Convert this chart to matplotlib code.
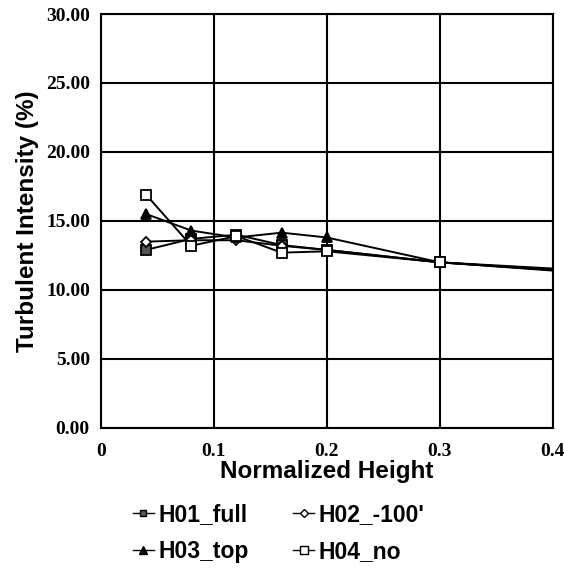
import matplotlib
matplotlib.use("Agg")
import matplotlib.pyplot as plt

x = [0.04, 0.08, 0.12, 0.16, 0.20, 0.30, 0.50]
h01 = [12.9, 13.7, 14.0, 13.25, 12.9, 12.0, 10.9]
h02 = [13.5, 13.6, 13.6, 13.2, 12.9, 12.0, 10.9]
h03 = [15.5, 14.3, 13.8, 14.15, 13.8, 12.0, 11.1]
h04 = [16.9, 13.2, 13.9, 12.7, 12.8, 12.0, 10.8]
labels = ["H01_full", "H02_-100'", "H03_top", "H04_no"]
xticks = [0, 0.1, 0.2, 0.3, 0.4]
xticklabels = ["0", "0.1", "0.2", "0.3", "0.4"]
yticks = [0, 5, 10, 15, 20, 25, 30]
yticklabels = ["0.00", "5.00", "10.00", "15.00", "20.00", "25.00", "30.00"]

fig = plt.figure(figsize=(5.64, 5.72), dpi=100)
ax = fig.add_axes([0.179, 0.252, 0.801, 0.7235])

styles = [
    dict(marker="s", mfc="#555555", mec="black", ms=6.5),
    dict(marker="D", mfc="white", mec="black", ms=5.5),
    dict(marker="^", mfc="black", mec="black", ms=7.5),
    dict(marker="s", mfc="white", mec="black", ms=7.5),
]
for ys, lab, st in zip([h01, h02, h03, h04], labels, styles):
    ax.plot(x, ys, color="black", lw=1.4, mew=1.3, label=lab, **st)

ax.set_xlim(0, 0.4)
ax.set_ylim(0, 30)
ax.set_xticks(xticks)
ax.set_xticklabels(xticklabels, fontfamily="Liberation Serif", fontweight="bold", fontsize=14)
ax.set_yticks(yticks)
ax.set_yticklabels(yticklabels, fontfamily="Liberation Serif", fontweight="bold", fontsize=14)
ax.tick_params(axis="x", length=0, pad=11)
ax.tick_params(axis="y", length=0, pad=8)
ax.grid(True, color="black", lw=1.5)
for s in ax.spines.values():
    s.set_linewidth(1.5)

ax.set_xlabel("Normalized Height", fontfamily="Liberation Sans", fontweight="bold", fontsize=17.5, labelpad=0)
ax.set_ylabel("Turbulent Intensity (%)", fontfamily="Liberation Sans", fontweight="bold", fontsize=17.5, labelpad=5)

leg_handles = []
for lab, st in zip(labels, styles):
    st2 = dict(st)
    st2["ms"] = st["ms"] * 0.7
    l, = ax.plot([], [], color="black", lw=1.0, mew=1.0, label=lab, **st2)
    leg_handles.append(l)
order = [0, 2, 1, 3]
fig.legend([leg_handles[i] for i in order], [labels[i] for i in order],
           loc="upper left", bbox_to_anchor=(0.236, 0.12), ncol=2,
           frameon=False, prop=dict(family="Liberation Sans", weight="bold", size=16.5),
           handlelength=0.9, handletextpad=0.2, columnspacing=1.95, labelspacing=0.6,
           borderpad=0, borderaxespad=0)

fig.savefig("out.png", dpi=100)
